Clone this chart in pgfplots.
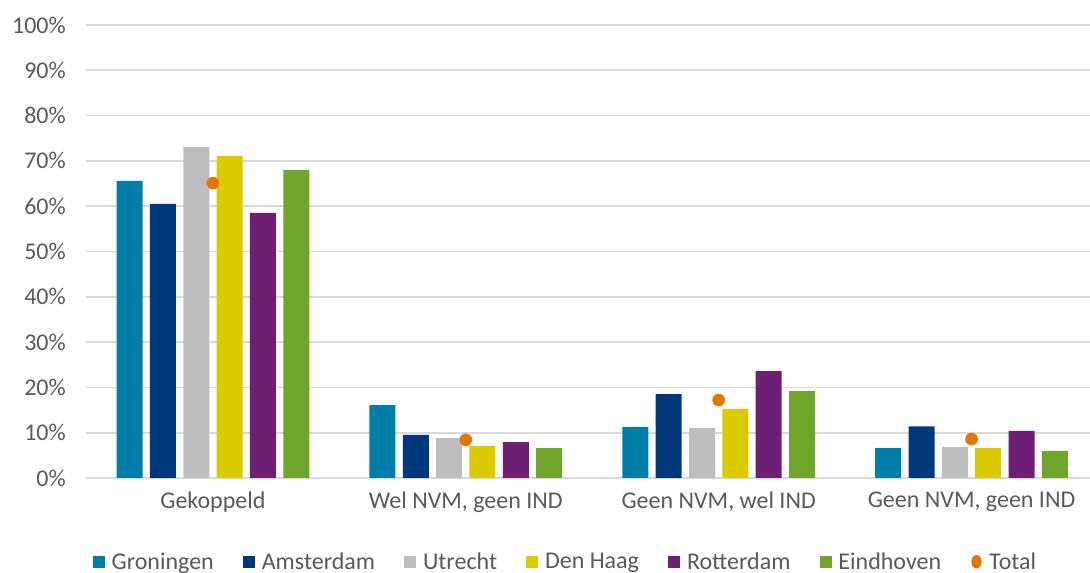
\documentclass[border=0pt]{standalone}
\usepackage{pgfplots}
\pgfplotsset{compat=1.18}
\usepackage{fontspec}
\setmainfont{Carlito}
\definecolor{cGro}{RGB}{0,126,167}
\definecolor{cAms}{RGB}{0,56,123}
\definecolor{cUtr}{RGB}{189,189,189}
\definecolor{cDH}{RGB}{218,203,0}
\definecolor{cRot}{RGB}{108,31,115}
\definecolor{cEin}{RGB}{112,164,42}
\definecolor{cTot}{RGB}{228,117,0}
\definecolor{txt}{RGB}{89,89,89}
\definecolor{grd}{RGB}{217,217,217}
\pgfplotstableread{
x Gro Ams Utr DH Rot Ein Tot
0 65.6 60.5 73.1 71.1 58.5 68.0 65.1
1 16.1 9.5 8.8 7.1 7.9 6.6 8.4
2 11.3 18.5 11.0 15.2 23.6 19.2 17.2
3 6.6 11.4 6.8 6.6 10.4 6.0 8.6
}\datatable
\begin{document}
\begin{tikzpicture}
\path[use as bounding box] (-64.875pt,-71.25pt) rectangle ++(817.5pt,429.75pt);
\begin{axis}[
  at={(0,0)}, anchor=south west,
  scale only axis, width=758.6pt, height=339.75pt,
  xmin=-0.5, xmax=3.5, ymin=0, ymax=100,
  axis line style={draw=none},
  tick style={draw=none},
  xtick={0,1,2,3},
  xticklabels={Gekoppeld,{Wel NVM, geen IND},{Geen NVM, wel IND},{Geen NVM, geen IND}},
  ytick={0,10,...,100},
  yticklabels={0\%,10\%,20\%,30\%,40\%,50\%,60\%,70\%,80\%,90\%,100\%},
  ymajorgrids, grid style={grd, line width=1.3pt},
  major tick length=0pt,
  tick label style={font=\fontsize{18}{21}\selectfont, text=txt},
  xticklabel style={yshift=-7pt},
  yticklabel style={xshift=-12pt},
  legend style={draw=none, at={(0.474,-0.185)}, anchor=center,
    font=\fontsize{18}{21}\selectfont, text=txt, legend columns=-1,
    /tikz/every even column/.append style={column sep=20pt},
    nodes={inner sep=2pt}},
  legend image code/.code={\path[draw=none,fill=none] (0pt,0pt) -- (12pt,0pt);\fill[#1] (0pt,-4.5pt) rectangle (9pt,4.5pt);},
  clip=false,
]
\addplot[ybar, bar width=19.5pt, bar shift=-62.5pt, fill=cGro, draw=none] table[x=x,y=Gro]{\datatable};
\addlegendentry{Groningen}
\addplot[ybar, bar width=19.5pt, bar shift=-37.5pt, fill=cAms, draw=none] table[x=x,y=Ams]{\datatable};
\addlegendentry{Amsterdam}
\addplot[ybar, bar width=19.5pt, bar shift=-12.5pt, fill=cUtr, draw=none] table[x=x,y=Utr]{\datatable};
\addlegendentry{Utrecht}
\addplot[ybar, bar width=19.5pt, bar shift=12.5pt, fill=cDH, draw=none] table[x=x,y=DH]{\datatable};
\addlegendentry{Den Haag}
\addplot[ybar, bar width=19.5pt, bar shift=37.5pt, fill=cRot, draw=none] table[x=x,y=Rot]{\datatable};
\addlegendentry{Rotterdam}
\addplot[ybar, bar width=19.5pt, bar shift=62.5pt, fill=cEin, draw=none] table[x=x,y=Ein]{\datatable};
\addlegendentry{Eindhoven}
\addplot[only marks, mark=*, mark size=4.5pt, color=cTot,
  legend image code/.code={\path[draw=none,fill=none] (0pt,0pt) -- (12pt,0pt);\fill[cTot] (4.5pt,0pt) ellipse (3.6pt and 4.8pt);}] table[x=x,y=Tot]{\datatable};
\addlegendentry{Total}
\end{axis}
\end{tikzpicture}
\end{document}
